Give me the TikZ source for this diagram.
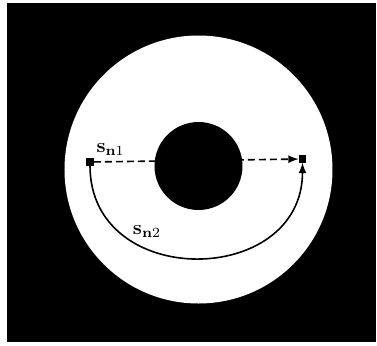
\documentclass[tikz,border=0pt]{standalone}
\usepackage{amsmath}
\usepackage{tikz}
\usetikzlibrary{positioning}

\begin{document}
\begin{tikzpicture}[x=0.5pt, y=-0.5pt, thick,
		pt/.style={fill, draw, minimum size=3pt, inner sep=0pt},
		lbl/.style={inner sep=1pt}]
		% Frame
		\useasboundingbox (0, 0) rectangle (377, 345);
		\fill[white] (0, 0) rectangle (377, 345);
		\fill[black] (7, 3) rectangle (376, 342);

		% Annulus
		\fill[white] (198.5, 169.5) circle (134);
		\fill[black] (198.5, 166) circle (44);

		% Points
		\node[pt] (n1) at (90, 162) {};
		\node[pt] (n2) at (302.5, 159) {};

		% Paths
		\draw[dashed, dash pattern=on 3.5pt off 2pt, -latex] (n1) -- (n2);
		\draw[-latex] (n1) to[out=-90, in=-90, looseness=1.5] (n2);

		% Labels
		\node[lbl, above right=0pt of n1.north east] (s1) {$\mathbf{s}_{\mathbf{n}1}$};
		\node[lbl] (s2) at (147, 232) {$\mathbf{s}_{\mathbf{n}2}$};
	\end{tikzpicture}
\end{document}
